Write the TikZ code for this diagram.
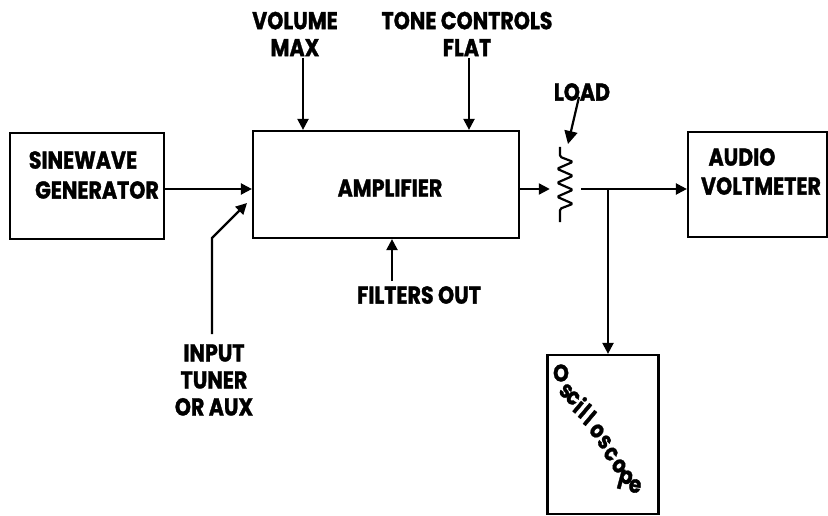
\documentclass[tikz,border=0pt]{standalone}
\usepackage{fontspec}
\setmainfont{Poppins}[FakeStretch=0.84,BoldFeatures={FakeBold=1.2}]
\usetikzlibrary{arrows.meta}
\begin{document}
\begin{tikzpicture}[x=1pt,y=-1pt,
  box/.style={draw,line width=2.2pt,minimum width=#1,inner sep=0pt},
  lbl/.style={font=\fontsize{24.5}{27}\selectfont\bfseries,inner sep=0pt,align=center},
  wire/.style={line width=2.2pt},
  arr/.style={wire,-{Triangle[length=11pt,width=11pt]}},
  osc/.style={font=\fontsize{24}{26}\selectfont\bfseries,inner sep=0pt}]
\useasboundingbox (0,0) rectangle (828,516);
% boxes
\node[box=154pt,minimum height=106pt] (sine) at (87,186) {};
\node[box=266pt,minimum height=107pt] (amp) at (386,184.5) {};
\node[box=139pt,minimum height=105pt] (volt) at (757.5,184.5) {};
\node[box=111pt,minimum height=159pt] (scope) at (603,434.5) {};
\node[minimum width=30pt,minimum height=75pt,inner sep=0pt] (load) at (566,184.5) {};
% texts
\node[lbl] (tsine1) at (83,160) {SINEWAVE};
\node[lbl] (tsine2) at (97,190) {GENERATOR};
\node[lbl] (tamp) at (390,188) {AMPLIFIER};
\node[lbl] (tvolt1) at (742,157) {AUDIO};
\node[lbl] (tvolt2) at (761,186) {VOLTMETER};
\node[lbl] (tvol) at (295,34) {VOLUME\\MAX};
\node[lbl] (ttone) at (467,34) {TONE CONTROLS\\FLAT};
\node[lbl] (tfilt) at (419,295) {FILTERS OUT};
\node[lbl] (tinput) at (214,380) {INPUT\\TUNER\\OR AUX};
\node[lbl] (tload) at (582,92) {LOAD};
% resistor zigzag
\draw[wire,line join=round,rounded corners=1.5pt]
  ([xshift=-6pt]load.north) -- ++(0,10) -- ++(13,5) -- ++(-16,7) -- ++(16,7)
  -- ++(-16,7) -- ++(16,7) -- ++(-16,7) -- ++(16,7) -- ++(-13,5) -- ([xshift=-6pt]load.south);
% junction
\coordinate (j) at (608,189);
% connectors
\draw[arr] (sine.east |- j) -- (amp.west |- j);
\draw[arr] (amp.east |- j) -- ([xshift=-1pt]load.west |- j);
\draw[wire] (load.east |- j) -- (j);
\draw[arr] (j) -- (volt.west |- j);
\draw[arr] (j) -- (scope.north -| j);
\draw[arr] (303,58) -- (amp.north -| 303,0);
\draw[arr] (469,58) -- (amp.north -| 469,0);
\draw[arr] (392,281) -- (amp.south -| 392,0);
\draw[arr] (tinput.north -| 212,0) ++(0,-10) -- (212,238) -- (247,203);
\draw[arr,-{Triangle[length=13pt,width=13pt]}] (tload.south) ++(-3,-4) coordinate (la) -- (568,144);
% oscilloscope letters
\foreach \ch/\px/\py/\rot in {O/561/373/0, s/566/391/-35, c/573/398/-35, i/580/405/-40, l/585/411/-40, l/590/418/-40, o/597/431/-45, s/604.5/442/-45, c/611/454/-45, o/619/466/-40, p/625/480/-15, e/635/486/-10}
  \node[osc,rotate=\rot] at (\px,\py) {\ch};
\end{tikzpicture}
\end{document}
